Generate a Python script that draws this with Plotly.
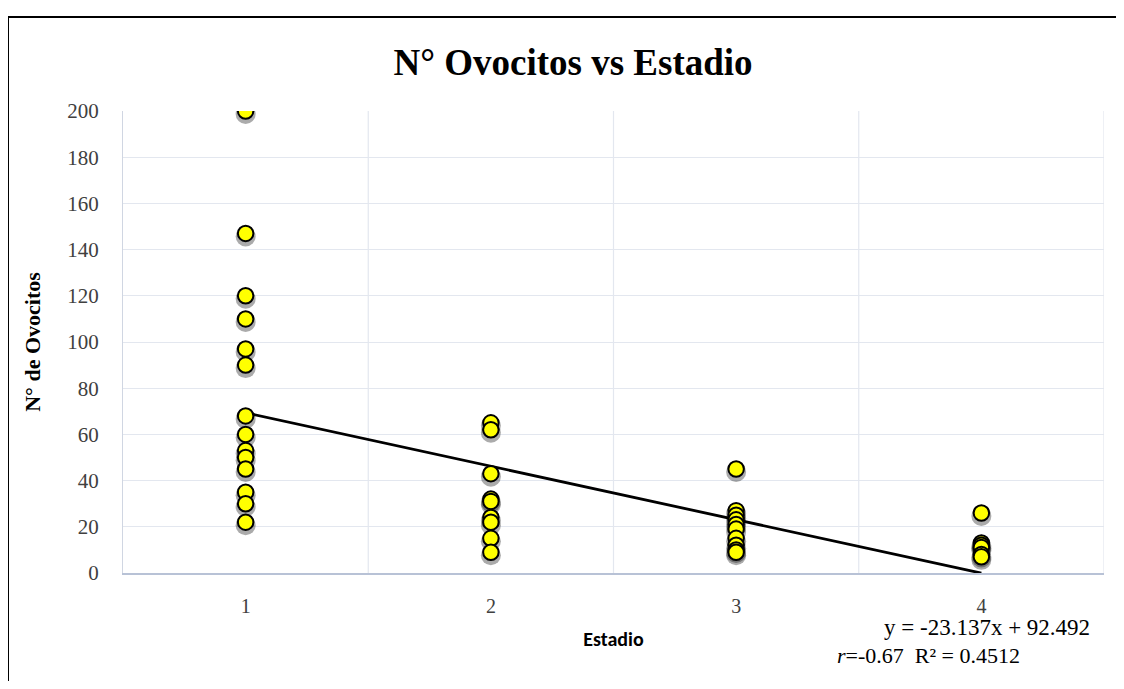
import plotly.graph_objects as go

# ---- data ----
estadio_1 = [200, 147, 120, 110, 97, 90, 68, 60, 53, 50, 45, 35, 30, 22]
estadio_2 = [65, 62, 43, 32, 31, 24, 22, 15, 9]
estadio_3 = [45, 27, 25, 23, 21, 19, 15, 12, 10, 9]
estadio_4 = [26, 13, 12, 11, 8, 7]
stages = [1, 2, 3, 4]
tick_vals_y = list(range(0, 201, 20))
slope = -23.137
intercept = 92.492
eq_text = "y = -23.137x + 92.492"
r_text = "<i>r</i>=-0.67"
r2_text = "R² = 0.4512"

xs, ys = [], []
for s, vals in zip(stages, [estadio_1, estadio_2, estadio_3, estadio_4]):
    xs += [s] * len(vals)
    ys += vals

OFF = 8                      # page body margin
W, H = 1124 - OFF, 689 - 2 * OFF
# plot area in screen pixels
SL, SR, ST, SB = 123, 1104, 111, 573
L, R, T, B = SL - OFF, SR - OFF, ST - OFF, SB - OFF
Y_RANGE = [0, 200]
shadow_px = 3
dy = shadow_px * (Y_RANGE[1] - Y_RANGE[0]) / (B - T)

fig = go.Figure()

# placeholder keeping the main axes alive
fig.add_trace(go.Scatter(x=[None], y=[None], mode="markers", showlegend=False,
                         hoverinfo="skip"))

# soft shadow under markers (drawn on a slightly shifted overlay axis)
fig.add_trace(go.Scatter(
    x=xs, y=ys, mode="markers", hoverinfo="skip", yaxis="y2",
    marker=dict(size=20, color="rgba(0,0,0,0.33)", line=dict(width=0)),
    showlegend=False))

# trendline
tx = [min(stages), max(stages)]
ty = [slope * v + intercept for v in tx]
fig.add_trace(go.Scatter(
    x=tx, y=ty, mode="lines", line=dict(color="black", width=2.8), yaxis="y3",
    showlegend=False, hoverinfo="skip"))

fig.add_trace(go.Scatter(
    x=xs, y=ys, mode="markers", yaxis="y3",
    marker=dict(size=15.5, color="#FFFF00", line=dict(color="black", width=2)),
    showlegend=False))

def px_x(p):
    return (p - OFF - L) / (R - L)

def px_y(p):
    return (B - (p - OFF)) / (B - T)

fig.update_layout(
    width=W, height=H,
    margin=dict(l=L, r=W - R, t=T, b=H - B),
    paper_bgcolor="white", plot_bgcolor="white",
    title=dict(text="<b>N° Ovocitos vs Estadio</b>",
               font=dict(family="Liberation Serif", size=37, color="black"),
               x=px_x(573), xref="paper", xanchor="center",
               y=1 - (62 - OFF) / H, yanchor="middle"),
    xaxis=dict(range=[0.5, 4.5], tickvals=stages, ticktext=[str(s) for s in stages],
               showgrid=False, zeroline=False,
               showline=True, linecolor="#B8C2D6", linewidth=1.5,
               ticks="", ticklabelstandoff=14,
               tickfont=dict(family="Liberation Serif", size=20, color="#404040"),
               title=dict(text="<b>Estadio</b>", standoff=16,
                          font=dict(family="Carlito, Liberation Sans, Arial", size=20, color="black"))),
    yaxis=dict(range=Y_RANGE, tickvals=tick_vals_y,
               showgrid=True, gridcolor="#E3E7EF", gridwidth=1.2,
               zeroline=False, showline=True, linecolor="#D0D6E2", linewidth=1,
               ticks="", ticklabelstandoff=19,
               tickfont=dict(family="Liberation Serif", size=21, color="#404040"),
               title=dict(text="<b>N° de Ovocitos</b>", standoff=20,
                          font=dict(family="Liberation Serif", size=22, color="black"))),
    yaxis2=dict(range=[Y_RANGE[0] + dy, Y_RANGE[1] + dy], overlaying="y",
                visible=False, showgrid=False),
    yaxis3=dict(range=Y_RANGE, overlaying="y", visible=False, showgrid=False),
    font=dict(family="Liberation Serif"),
)

# vertical grid lines between categories
for gx in [1.5, 2.5, 3.5, 4.5]:
    fig.add_shape(type="line", xref="x", yref="paper", x0=gx, x1=gx, y0=0, y1=1,
                  line=dict(color="#E3E7EF", width=1.2), layer="below")

# outer border (top and left)
fig.add_shape(type="line", xref="paper", yref="paper",
              x0=px_x(7), x1=px_x(1130), y0=px_y(17), y1=px_y(17),
              line=dict(color="black", width=2))
fig.add_shape(type="line", xref="paper", yref="paper",
              x0=px_x(8), x1=px_x(8), y0=px_y(17), y1=px_y(700),
              line=dict(color="black", width=2))

# equation annotations
fig.add_annotation(text=eq_text, xref="paper", yref="paper",
                   x=px_x(987), y=px_y(627), showarrow=False,
                   xanchor="center", yanchor="middle",
                   font=dict(family="Liberation Serif", size=23, color="black"))
fig.add_annotation(text=r_text + "  " + r2_text, xref="paper", yref="paper",
                   x=px_x(835), y=px_y(655), showarrow=False,
                   xanchor="left", yanchor="middle",
                   font=dict(family="Liberation Serif", size=22, color="black"))

fig.write_html("out.html")
